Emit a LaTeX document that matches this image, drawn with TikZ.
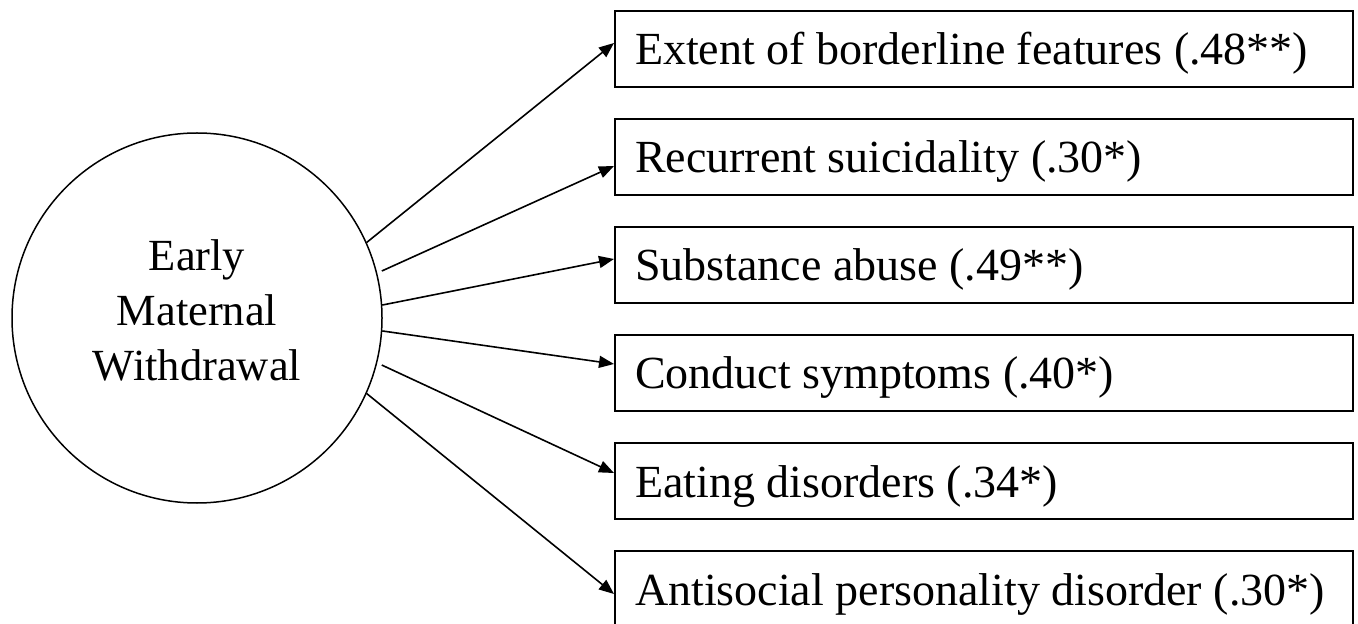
\documentclass[tikz,border=0pt]{standalone}
\usepackage{fontspec}
\setmainfont{Liberation Serif}
\usetikzlibrary{arrows.meta}
\newcommand{\boxtxt}[1]{\makebox[349pt][l]{#1}}
\tikzset{
  outcome/.style={draw, line width=1pt, anchor=north west, minimum width=369pt, minimum height=38pt,
    inner xsep=10pt, inner ysep=0pt,
    font=\fontsize{23pt}{27pt}\selectfont, text height=20pt, text depth=4pt},
  latent/.style={draw, circle, line width=0.75pt, minimum size=185pt, inner sep=0pt, align=center,
    font=\fontsize{22.25pt}{27.5pt}\selectfont, text depth=8pt},
  arr/.style={line width=0.8pt, -{Triangle[length=7.5pt, width=6pt]}}
}
\begin{document}
\begin{tikzpicture}[x=0.5pt, y=-0.5pt]
\useasboundingbox (0,0) rectangle (1358,624);
\node[latent] (c) at (197,318) {Early\\Maternal\\Withdrawal};
\node[outcome] (b1) at (614,10) {\boxtxt{Extent of borderline features (.48**)}};
\node[outcome] (b2) at (614,118) {\boxtxt{Recurrent suicidality (.30*)}};
\node[outcome] (b3) at (614,226) {\boxtxt{Substance abuse (.49**)}};
\node[outcome] (b4) at (614,334) {\boxtxt{Conduct symptoms (.40*)}};
\node[outcome] (b5) at (614,442) {\boxtxt{Eating disorders (.34*)}};
\node[outcome] (b6) at (614,550) {\boxtxt{Antisocial personality disorder (.30*)}};
\draw[arr] (c.24.5) -- ([yshift=3pt]b1.west);
\draw[arr, shorten <=2.5pt] (c.14) -- ([yshift=-4.5pt]b2.west);
\draw[arr] (c.4.9) -- ([yshift=3pt]b3.west);
\draw[arr] (c.-4.6) -- ([yshift=4.5pt]b4.west);
\draw[arr, shorten <=2.5pt] (c.-14.3) -- ([yshift=4pt]b5.west);
\draw[arr] (c.-24.9) -- ([yshift=-2.5pt]b6.west);
\end{tikzpicture}
\end{document}
